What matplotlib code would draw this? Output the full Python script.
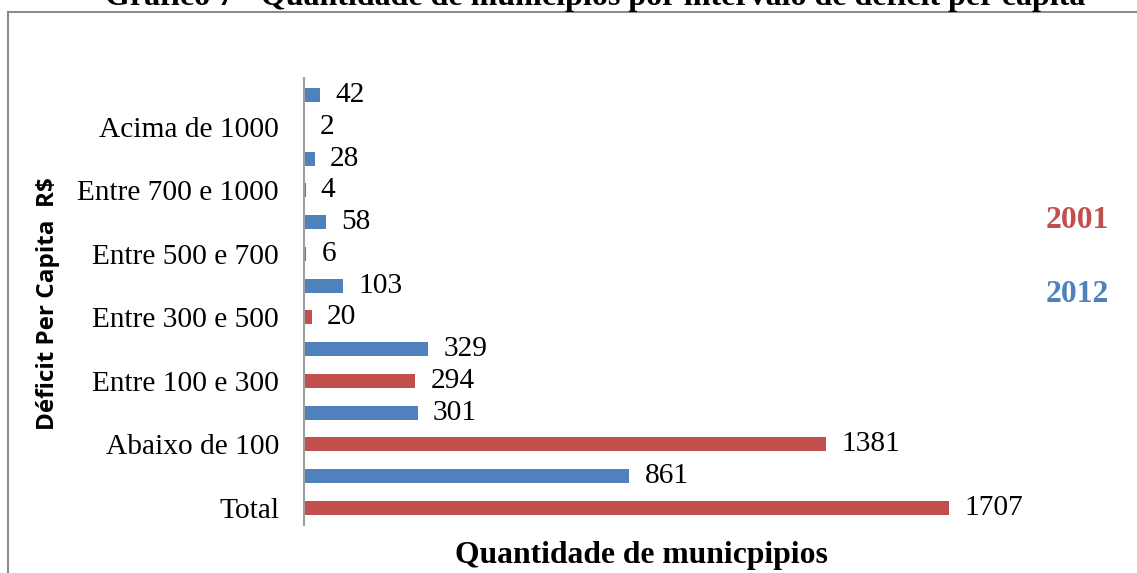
import matplotlib.pyplot as plt
from matplotlib.patches import Rectangle

# Data
categories = ['Total', 'Abaixo de 100', 'Entre 100 e 300', 'Entre 300 e 500',
              'Entre 500 e 700', 'Entre 700 e 1000', 'Acima de 1000']
values_2001 = [1707, 1381, 294, 20, 6, 4, 2]
values_2012 = [861, 301, 329, 103, 58, 28, 42]

red = '#C0504D'
blue = '#4F81BD'
serif = 'Liberation Serif'
fs = 21.2

W, H = 1137, 573
fig = plt.figure(figsize=(W / 100, H / 100), dpi=100)

# axes placement in pixels
left_px, right_px = 304, 984
top_px, bottom_px = 78, 525
ax = fig.add_axes([left_px / W, 1 - bottom_px / H, (right_px - left_px) / W, (bottom_px - top_px) / H])

pos = list(range(len(categories)))
bar_h = 0.22
ax.barh(pos, values_2001, height=bar_h, color=red)
ax.barh([p + 0.5 for p in pos], values_2012, height=bar_h, color=blue)

for p, v in zip(pos, values_2001):
    ax.annotate(str(v), (v, p), xytext=(11, 0), textcoords='offset points',
                va='center', ha='left', fontsize=fs, family=serif)
for p, v in zip(pos, values_2012):
    ax.annotate(str(v), (v, p + 0.5), xytext=(11, 0), textcoords='offset points',
                va='center', ha='left', fontsize=fs, family=serif)

ax.set_xlim(0, 1800)
ax.set_ylim(-0.27, 6.77)
ax.set_yticks(pos)
ax.set_yticklabels(categories, fontsize=fs, family=serif)
ax.set_xticks([])
ax.tick_params(axis='y', length=0, pad=18)
for s in ['top', 'right', 'bottom']:
    ax.spines[s].set_visible(False)
ax.spines['left'].set_color('#A0A0A0')
ax.spines['left'].set_linewidth(1.5)

# axis titles
fig.text(48 / W, 1 - 304 / H, 'Déficit Per Capita  R$', rotation=90, ha='center', va='center',
         fontsize=17.5, fontweight='bold', family='Open Sans')
fig.text(641 / W, 1 - 556 / H, 'Quantidade de municpipios', ha='center', va='center',
         fontsize=22.8, fontweight='bold', family=serif)

# legend-like labels
fig.text(1077 / W, 1 - 220 / H, '2001', ha='center', va='center', color=red,
         fontsize=22.7, fontweight='bold', family=serif)
fig.text(1077 / W, 1 - 295 / H, '2012', ha='center', va='center', color=blue,
         fontsize=22.7, fontweight='bold', family=serif)

# title (cropped at top, as in the source)
fig.text(595 / W, 1 - 5 / H, 'Gráfico 7 - Quantidade de municípios por intervalo de déficit per capita',
         ha='center', va='baseline', fontsize=23, fontweight='bold', family=serif)

# chart frame
fig.patches.append(Rectangle((8 / W, -0.05), 1.1, 1 - 12 / H + 0.05, transform=fig.transFigure,
                             fill=False, edgecolor='#8C8C8C', linewidth=1.5))

fig.savefig('out.png', dpi=100)
